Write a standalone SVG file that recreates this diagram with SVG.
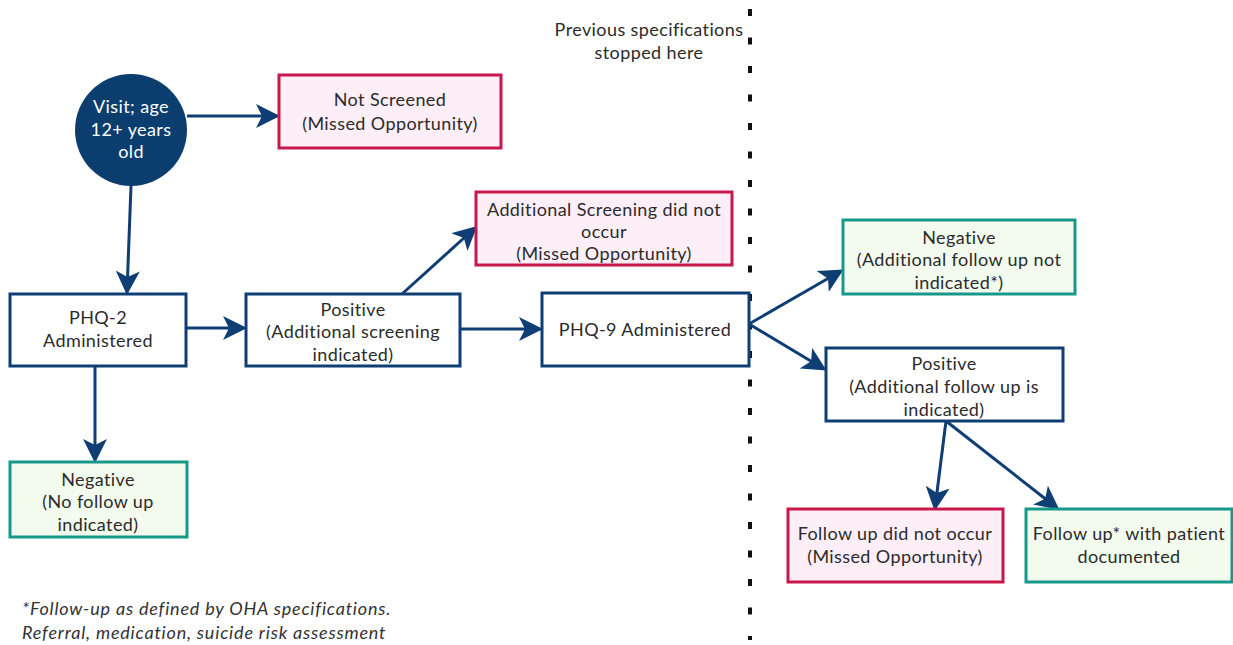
<svg xmlns="http://www.w3.org/2000/svg" width="1233" height="645" viewBox="0 0 1233 645">
<style>
text{font-family:Lato,"Open Sans","Liberation Sans",sans-serif;font-size:18px;letter-spacing:0.4px;fill:#2b2b2b;text-anchor:middle}
.blue{fill:#ffffff;stroke:#0e3e74;stroke-width:3}
.red{fill:#fdeef7;stroke:#c8174a;stroke-width:3}
.green{fill:#f3fbee;stroke:#16988a;stroke-width:3}
.conn{stroke:#0e3e74;stroke-width:3;fill:none;marker-end:url(#ah)}
.wt{fill:#ffffff}
.note{font-style:italic;text-anchor:start;fill:#333;letter-spacing:0.8px}
</style>
<defs>
<marker id="ah" markerWidth="8" markerHeight="8" refX="7" refY="4" orient="auto" markerUnits="strokeWidth" viewBox="0 0 8 8">
<path d="M0,0 L8,4 L0,8 L2,4 Z" fill="#0e3e74"/>
</marker>
</defs>
<rect width="1233" height="645" fill="#ffffff"/>
<line x1="750" y1="9" x2="750" y2="640" stroke="#111" stroke-width="4" stroke-dasharray="7,21.5"/>
<g id="divider-label">
<text x="649" y="36">Previous specifications</text>
<text x="649" y="59">stopped here</text>
</g>
<g id="connectors">
<line class="conn" x1="187" y1="116" x2="277" y2="116"/>
<line class="conn" x1="131" y1="186" x2="127" y2="292"/>
<line class="conn" x1="186" y1="328" x2="244" y2="328"/>
<line class="conn" x1="402" y1="294" x2="475" y2="228"/>
<line class="conn" x1="460" y1="329" x2="540" y2="329"/>
<line class="conn" x1="95" y1="366" x2="95" y2="460"/>
<line class="conn" x1="749" y1="324" x2="841" y2="271"/>
<line class="conn" x1="749" y1="324" x2="824" y2="369"/>
<line class="conn" x1="946" y1="421" x2="935" y2="508"/>
<line class="conn" x1="946" y1="421" x2="1057" y2="508"/>
</g>
<g id="visit">
<circle cx="131" cy="130" r="56" fill="#0b3d6e"/>
<text class="wt" x="131" y="113">Visit; age</text>
<text class="wt" x="131" y="136">12+ years</text>
<text class="wt" x="131" y="158">old</text>
</g>
<g id="not-screened">
<rect class="red" x="279" y="75" width="222" height="73"/>
<text x="390" y="106">Not Screened</text>
<text x="390" y="130">(Missed Opportunity)</text>
</g>
<g id="phq2">
<rect class="blue" x="10" y="294" width="176" height="72"/>
<text x="98" y="324">PHQ-2</text>
<text x="98" y="347">Administered</text>
</g>
<g id="positive1">
<rect class="blue" x="246" y="294" width="214" height="72"/>
<text x="353" y="316">Positive</text>
<text x="353" y="338">(Additional screening</text>
<text x="353" y="361">indicated)</text>
</g>
<g id="add-screening-missed">
<rect class="red" x="476" y="192" width="256" height="73"/>
<text x="604" y="216">Additional Screening did not</text>
<text x="604" y="238">occur</text>
<text x="604" y="260">(Missed Opportunity)</text>
</g>
<g id="phq9">
<rect class="blue" x="542" y="293" width="207" height="73"/>
<text x="645" y="336">PHQ-9 Administered</text>
</g>
<g id="negative1">
<rect class="green" x="10" y="462" width="177" height="75"/>
<text x="98" y="486">Negative</text>
<text x="98" y="508">(No follow up</text>
<text x="98" y="531">indicated)</text>
</g>
<g id="negative2">
<rect class="green" x="843" y="220" width="232" height="74"/>
<text x="959" y="244">Negative</text>
<text x="959" y="266">(Additional follow up not</text>
<text x="959" y="289">indicated*)</text>
</g>
<g id="positive2">
<rect class="blue" x="826" y="348" width="237" height="73"/>
<text x="944" y="370">Positive</text>
<text x="944" y="393">(Additional follow up is</text>
<text x="944" y="416">indicated)</text>
</g>
<g id="followup-missed">
<rect class="red" x="788" y="509" width="215" height="73"/>
<text x="895" y="540">Follow up did not occur</text>
<text x="895" y="563">(Missed Opportunity)</text>
</g>
<g id="followup-documented">
<rect class="green" x="1026" y="509" width="206" height="73"/>
<text x="1129" y="540">Follow up* with patient</text>
<text x="1129" y="563">documented</text>
</g>
<g id="footnote">
<text class="note" x="22" y="615">*Follow-up as defined by OHA specifications.</text>
<text class="note" x="22" y="639">Referral, medication, suicide risk assessment</text>
</g>
</svg>
